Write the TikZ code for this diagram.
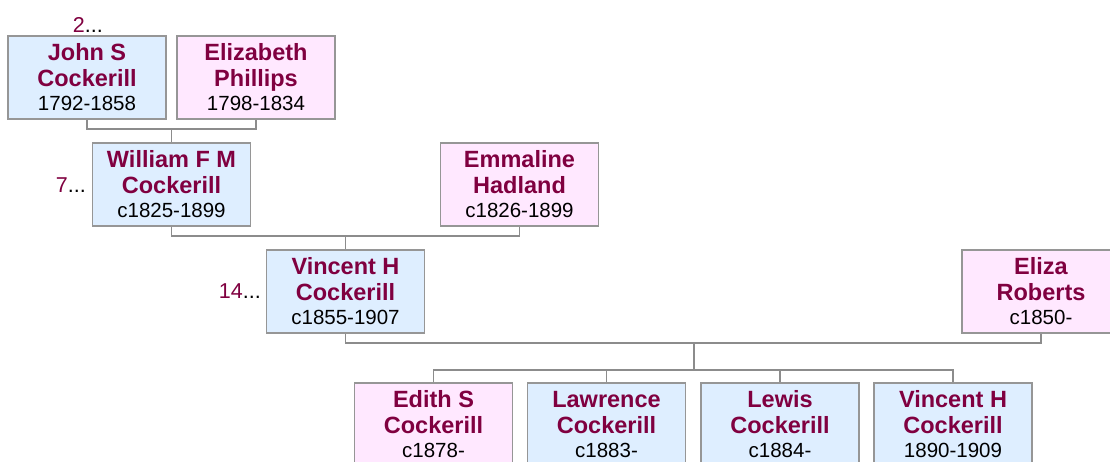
\documentclass[tikz,border=0pt]{standalone}
\usepackage{fontspec}
\setmainfont{Liberation Sans}
\definecolor{namecol}{RGB}{128,0,64}
\definecolor{malefill}{RGB}{222,238,255}
\definecolor{femfill}{RGB}{255,232,255}
\definecolor{boxline}{RGB}{150,150,150}
\definecolor{linkcol}{RGB}{140,140,140}
\tikzset{
  person/.style={draw=boxline, line width=1.3pt, minimum width=158pt, minimum height=83pt,
    inner sep=0pt, align=center, text=namecol,
    font=\fontsize{23.5}{26}\selectfont\bfseries},
  male/.style={person, fill=malefill},
  female/.style={person, fill=femfill},
  link/.style={draw=linkcol, line width=1.3pt},
  more/.style={inner sep=0pt, anchor=base east, font=\fontsize{21.5}{24}\selectfont}
}
\newcommand{\pdate}[1]{\\[-2pt]{\fontsize{20.5}{24}\selectfont\mdseries\color{black}#1}}
\begin{document}
\begin{tikzpicture}[x=1pt,y=-1pt]
\clip (0,0) rectangle (1110,461);
\fill[white] (0,0) rectangle (1110,461);
% generation 1
\node[male]   (john)  at (87,77.5)   {John S\\Cockerill\pdate{1792-1858}};
\node[female] (eliz)  at (256,77.5)  {Elizabeth\\Phillips\pdate{1798-1834}};
% generation 2
\node[male]   (will)  at (171.5,184.5) {William F M\\Cockerill\pdate{c1825-1899}};
\node[female] (emma)  at (519.5,184.5) {Emmaline\\Hadland\pdate{c1826-1899}};
% generation 3
\node[male]   (vinc)  at (345.5,291.5) {Vincent H\\Cockerill\pdate{c1855-1907}};
\node[female] (eliza) at (1041,291.5)  {Eliza\\Roberts\pdate{c1850-}};
% children
\node[female] (edith) at (433.5,424.5) {Edith S\\Cockerill\pdate{c1878-}};
\node[male]   (lawr)  at (606.5,424.5) {Lawrence\\Cockerill\pdate{c1883-}};
\node[male]   (lewis) at (780,424.5)   {Lewis\\Cockerill\pdate{c1884-}};
\node[male]   (vinc2) at (953,424.5)   {Vincent H\\Cockerill\pdate{1890-1909}};
% more markers
\node[more] (m2) at (103,32)  {\textcolor{namecol}{2}...};
\node[more] (m7) at (86,192)  {\textcolor{namecol}{7}...};
\node[more] (m14) at (261,298) {\textcolor{namecol}{14}...};
% connectors
\coordinate (c1) at (171.5,129);
\draw[link] (john.south) |- (c1) -| (eliz.south);
\draw[link] (c1) -- (will.north);
\coordinate (c2) at (345.5,236);
\draw[link] (will.south) |- (c2) -| (emma.south);
\draw[link] (c2) -- (vinc.north);
\coordinate (c3) at (694,343);
\draw[link] (vinc.south) |- (c3) -| (eliza.south);
\coordinate (c4) at (694,370);
\draw[link] (c3) -- (c4);
\draw[link] (edith.north) |- (c4) -| (vinc2.north);
\draw[link] (lawr.north) |- (c4);
\draw[link] (lewis.north) |- (c4);
\end{tikzpicture}
\end{document}
